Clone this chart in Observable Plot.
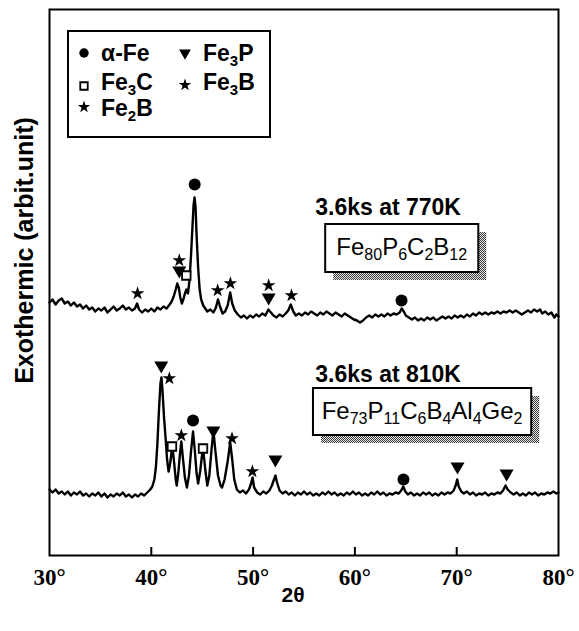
<!DOCTYPE html>
<html><head><meta charset="utf-8">
<script src="https://cdn.jsdelivr.net/npm/d3@7"></script>
<script src="https://cdn.jsdelivr.net/npm/@observablehq/plot@0.6"></script>
<style>
html,body{margin:0;padding:0;background:#fff;}
#chart{position:relative;width:579px;height:631px;}
</style></head><body><div id="chart"></div>
<script>
// ---- data (2θ in degrees, signal in arbitrary units) ----
const xTicks = [30, 40, 50, 60, 70, 80];
const innerTicks = [40, 50, 60, 70];

const upperTrace = [[30.0,253],[30.3,256],[30.6,251],[30.9,255],[31.2,257],[31.5,252],[31.8,254],[32.1,250],[32.4,253],[32.7,249],[33.0,251],[33.3,247],[33.6,250],[33.9,246],[34.2,248],[34.5,244],[34.8,247],[35.1,245],[35.4,248],[35.7,243],[36.0,246],[36.3,249],[36.6,245],[36.9,247],[37.2,250],[37.5,246],[37.8,248],[38.1,245],[38.4,247],[38.6,252],[38.8,246],[39.1,243],[39.4,246],[39.7,244],[40.0,247],[40.3,244],[40.6,248],[40.9,246],[41.2,249],[41.5,247],[41.8,251],[42.0,254],[42.2,259],[42.4,266],[42.55,272],[42.7,268],[42.85,258],[43.0,252],[43.15,256],[43.3,262],[43.45,266],[43.6,262],[43.75,275],[43.9,300],[44.05,330],[44.15,350],[44.25,358],[44.35,348],[44.45,320],[44.6,288],[44.75,266],[44.9,256],[45.1,250],[45.3,247],[45.5,244],[45.8,246],[46.1,243],[46.35,248],[46.55,256],[46.75,249],[47.0,242],[47.25,244],[47.5,250],[47.75,263],[47.95,252],[48.2,245],[48.5,241],[48.8,238],[49.1,240],[49.4,237],[49.7,240],[50.0,238],[50.3,241],[50.6,239],[50.9,242],[51.2,240],[51.5,246],[51.75,243],[52.0,240],[52.3,238],[52.6,241],[52.9,239],[53.2,242],[53.45,245],[53.7,251],[53.95,244],[54.2,240],[54.5,242],[54.8,240],[55.1,243],[55.4,241],[55.7,244],[56.0,242],[56.3,240],[56.6,243],[56.9,241],[57.2,244],[57.5,242],[57.8,240],[58.1,243],[58.4,241],[58.7,239],[59.0,242],[59.3,240],[59.6,238],[59.9,236],[60.2,235],[60.5,233],[60.8,235],[61.1,238],[61.4,240],[61.7,238],[62.0,241],[62.3,239],[62.6,241],[62.9,239],[63.2,242],[63.5,240],[63.8,242],[64.1,241],[64.4,243],[64.6,247],[64.8,244],[65.0,240],[65.3,238],[65.6,236],[65.9,238],[66.2,235],[66.5,237],[66.8,235],[67.1,238],[67.4,236],[67.7,238],[68.0,235],[68.3,237],[68.6,239],[68.9,237],[69.2,239],[69.5,237],[69.8,240],[70.1,238],[70.4,240],[70.7,238],[71.0,241],[71.3,239],[71.6,242],[71.9,240],[72.2,243],[72.5,241],[72.8,243],[73.1,241],[73.4,243],[73.7,242],[74.0,244],[74.3,242],[74.6,244],[74.9,243],[75.2,245],[75.5,243],[75.8,245],[76.1,243],[76.4,241],[76.7,243],[77.0,245],[77.3,243],[77.6,246],[77.9,244],[78.2,246],[78.4,242],[78.7,244],[79.0,241],[79.3,243],[79.6,238],[79.8,241],[80.0,239]];

const lowerTrace = [[30.0,66],[30.3,63],[30.6,66],[30.9,62],[31.2,64],[31.5,61],[31.8,64],[32.1,60],[32.4,63],[32.7,61],[33.0,64],[33.3,60],[33.6,62],[33.9,59],[34.2,62],[34.5,60],[34.8,63],[35.1,59],[35.4,62],[35.7,58],[36.0,61],[36.3,59],[36.6,62],[36.9,60],[37.2,63],[37.5,59],[37.8,61],[38.1,58],[38.4,61],[38.7,59],[39.0,62],[39.3,60],[39.6,63],[39.9,66],[40.1,69],[40.3,76],[40.45,88],[40.6,112],[40.75,145],[40.9,172],[41.0,178],[41.1,165],[41.25,138],[41.4,118],[41.55,96],[41.7,84],[41.85,92],[42.0,104],[42.1,107],[42.25,92],[42.4,76],[42.5,70],[42.65,82],[42.8,100],[42.95,114],[43.1,98],[43.3,78],[43.5,68],[43.7,80],[43.9,104],[44.1,124],[44.25,108],[44.45,82],[44.6,72],[44.8,84],[45.0,102],[45.1,106],[45.3,86],[45.5,70],[45.7,80],[45.9,104],[46.1,125],[46.3,104],[46.55,80],[46.8,70],[46.95,68],[47.2,76],[47.5,94],[47.75,113],[47.95,96],[48.15,76],[48.4,66],[48.7,63],[49.0,65],[49.3,62],[49.6,66],[49.8,72],[49.95,78],[50.1,68],[50.4,63],[50.7,61],[51.0,64],[51.3,62],[51.6,65],[51.85,70],[52.05,76],[52.2,80],[52.35,73],[52.6,65],[52.9,62],[53.2,64],[53.5,61],[53.8,63],[54.1,60],[54.4,63],[54.7,61],[55.0,64],[55.3,61],[55.6,63],[55.9,60],[56.2,62],[56.5,60],[56.8,63],[57.1,61],[57.4,64],[57.7,61],[58.0,63],[58.3,60],[58.6,62],[58.9,60],[59.2,63],[59.5,61],[59.8,64],[60.1,61],[60.4,63],[60.7,60],[61.0,62],[61.3,60],[61.6,63],[61.9,61],[62.2,64],[62.5,61],[62.8,63],[63.1,60],[63.4,62],[63.7,61],[64.0,63],[64.3,62],[64.55,65],[64.75,69],[64.95,64],[65.2,61],[65.5,63],[65.8,60],[66.1,62],[66.4,60],[66.7,63],[67.0,61],[67.3,63],[67.6,60],[67.9,62],[68.2,60],[68.5,63],[68.8,61],[69.1,63],[69.4,62],[69.7,65],[69.9,70],[70.05,76],[70.2,69],[70.45,64],[70.7,62],[71.0,64],[71.3,61],[71.6,63],[71.9,60],[72.2,62],[72.5,61],[72.8,63],[73.1,60],[73.4,62],[73.7,61],[74.0,63],[74.3,62],[74.55,65],[74.8,70],[75.0,66],[75.3,63],[75.6,61],[75.9,63],[76.2,60],[76.5,62],[76.8,60],[77.1,63],[77.4,61],[77.7,63],[78.0,60],[78.3,62],[78.6,61],[78.9,63],[79.2,62],[79.5,64],[79.8,62],[80.0,63]];

// phase markers: [2θ, marker level]
const alphaFePeaks = [[44.26,371],[64.58,255],[44.1,135],[64.77,76]];
const fe3pPeaks = [[42.75,285],[51.53,258],[40.98,190],[46.1,125],[52.19,96],[70.08,89],[74.9,82]];
const fe3cPeaks = [[43.44,280],[42.03,109],[45.08,107]];
const boridePeaks = [[42.75,295],[38.65,262],[46.52,265],[47.77,272],[51.53,270],[53.77,260],[41.77,177],[42.95,120],[47.93,117],[49.93,84]];

// annotations (angle / level in data units)
const sampleLabels = [
  {text: "3.6ks at 770K", angle: 56.15, level: 340},
  {text: "3.6ks at 810K", angle: 56.15, level: 173}
];
const formulaBoxes = [
  {parts: [["Fe","80"],["P","6"],["C","2"],["B","12"]], a1: 57.13, a2: 72.17, l1: 283, l2: 331},
  {parts: [["Fe","73"],["P","11"],["C","6"],["B","4"],["Al","4"],["Ge","2"]], a1: 55.93, a2: 77.37, l1: 120, l2: 167}
];
const legendItems = [
  {symbol: "circle", label: [["α-Fe",""]]},
  {symbol: "triangle", label: [["Fe","3"],["P",""]]},
  {symbol: "square", label: [["Fe","3"],["C",""]]},
  {symbol: "star", label: [["Fe","3"],["B",""]]},
  {symbol: "star", label: [["Fe","2"],["B",""]]}
];

// ---- build ----
const sans = "'Liberation Sans', Arial, Helvetica, sans-serif";
const serif = "'Liberation Serif', 'Times New Roman', serif";
const rows = [
  ...upperTrace.map(([a, v]) => ({angle: a, signal: v, sample: "Fe80P6C2B12"})),
  ...lowerTrace.map(([a, v]) => ({angle: a, signal: v, sample: "Fe73P11C6B4Al4Ge2"}))
];

const chart = Plot.plot({
  width: 579, height: 631,
  marginLeft: 49, marginRight: 21, marginTop: 9, marginBottom: 76,
  x: {domain: [30, 80]},
  y: {domain: [0, 546], axis: null},
  style: {background: "#fff", color: "#000", overflow: "visible", fontFamily: sans},
  marks: [
    Plot.ruleX(innerTicks, {y1: 0, y2: 8, stroke: "#000", strokeWidth: 2}),
    Plot.axisX(xTicks, {tickSize: 0, tickPadding: 13, tickFormat: d => d + "°", fontFamily: serif, fontWeight: "bold", fontSize: 23, label: null}),
    Plot.line(rows, {x: "angle", y: "signal", z: "sample", stroke: "#000", strokeWidth: 2.4, strokeLinejoin: "round"}),
    Plot.dot(alphaFePeaks, {x: d => d[0], y: d => d[1], symbol: "circle", r: 6, fill: "#000"}),
    Plot.dot(fe3pPeaks, {x: d => d[0], y: d => d[1], symbol: "triangle", r: 5.2, fill: "#000", rotate: 180}),
    Plot.dot(boridePeaks, {x: d => d[0], y: d => d[1], symbol: "star", r: 4.3, fill: "#000"}),
    Plot.dot(fe3cPeaks, {x: d => d[0], y: d => d[1], symbol: "square", r: 4.8, fill: "#fff", stroke: "#000", strokeWidth: 1.8}),
    Plot.frame({stroke: "#000", strokeWidth: 2}),
    Plot.text(["Exothermic (arbit.unit)"], {frameAnchor: "left", textAnchor: "middle", dx: -25, dy: -32, rotate: -90, fontSize: 25, fontWeight: "bold", fontFamily: sans}),
    Plot.text(["2θ"], {frameAnchor: "bottom", textAnchor: "middle", dx: -11, dy: 46, fontSize: 21, fontWeight: "bold", fontFamily: sans})
  ]
});
document.getElementById("chart").appendChild(chart);

// ---- annotations placed through the chart's scales ----
const svg = d3.select(chart);
const sx = chart.scale("x"), sy = chart.scale("y");
const X = d3.scaleLinear(sx.domain, sx.range);
const Y = d3.scaleLinear(sy.domain, sy.range);

const defs = svg.append("defs");
const pat = defs.append("pattern").attr("id", "stipple").attr("width", 2).attr("height", 2).attr("patternUnits", "userSpaceOnUse");
pat.append("rect").attr("width", 2).attr("height", 2).attr("fill", "#e6e6e6");
pat.append("rect").attr("width", 1).attr("height", 1).attr("fill", "#3a3a3a");
pat.append("rect").attr("x", 1).attr("y", 1).attr("width", 1).attr("height", 1).attr("fill", "#3a3a3a");

function writeParts(text, parts, size, subSize, shift) {
  let down = false;
  parts.forEach(([main, sub]) => {
    text.append("tspan").attr("font-size", size).attr("dy", down ? -shift : 0).text(main);
    down = false;
    if (sub) {
      text.append("tspan").attr("font-size", subSize).attr("dy", shift).text(sub);
      down = true;
    }
  });
}

const ann = svg.append("g").attr("font-family", sans).attr("fill", "#000").attr("text-anchor", "start");
sampleLabels.forEach(d => {
  ann.append("text").attr("x", X(d.angle)).attr("y", Y(d.level)).attr("text-anchor", "start")
    .attr("font-size", 23).attr("font-weight", "bold").text(d.text);
});
formulaBoxes.forEach(b => {
  const x1 = X(b.a1), x2 = X(b.a2), y1 = Y(b.l2), y2 = Y(b.l1);
  ann.append("rect").attr("x", x1 + 8).attr("y", y1 + 8).attr("width", x2 - x1).attr("height", y2 - y1).attr("fill", "url(#stipple)");
  ann.append("rect").attr("x", x1).attr("y", y1).attr("width", x2 - x1).attr("height", y2 - y1).attr("fill", "#fff").attr("stroke", "#000").attr("stroke-width", 2);
  const t = ann.append("text").attr("x", (x1 + x2) / 2).attr("y", (y1 + y2) / 2 + 7).attr("text-anchor", "middle");
  writeParts(t, b.parts, 24, 16, 5);
});

// legend (inside the frame, upper left)
const lg = svg.append("g").attr("font-family", sans).attr("font-weight", "bold").attr("text-anchor", "start");
lg.append("rect").attr("x", 68).attr("y", 31).attr("width", 202).attr("height", 106).attr("fill", "#fff").attr("stroke", "#000").attr("stroke-width", 2);
const slots = [[84, 53, 101, 61], [185, 53, 203, 61], [84, 86, 101, 90], [185, 85, 203, 90], [84, 107, 101, 116]];
const symSize = {circle: 70, triangle: 60, square: 56, star: 48};
legendItems.forEach((item, i) => {
  const [cx, cy, tx, ty] = slots[i];
  const type = {circle: d3.symbolCircle, triangle: d3.symbolTriangle, square: d3.symbolSquare, star: d3.symbolStar}[item.symbol];
  const p = lg.append("path").attr("d", d3.symbol(type, symSize[item.symbol])())
    .attr("transform", `translate(${cx},${cy})` + (item.symbol === "triangle" ? " rotate(180)" : ""));
  if (item.symbol === "square") p.attr("fill", "#fff").attr("stroke", "#000").attr("stroke-width", 1.8);
  else p.attr("fill", "#000");
  const t = lg.append("text").attr("x", tx).attr("y", ty).attr("text-anchor", "start");
  writeParts(t, item.label, 23, 15, 5);
});
</script>
</body></html>
